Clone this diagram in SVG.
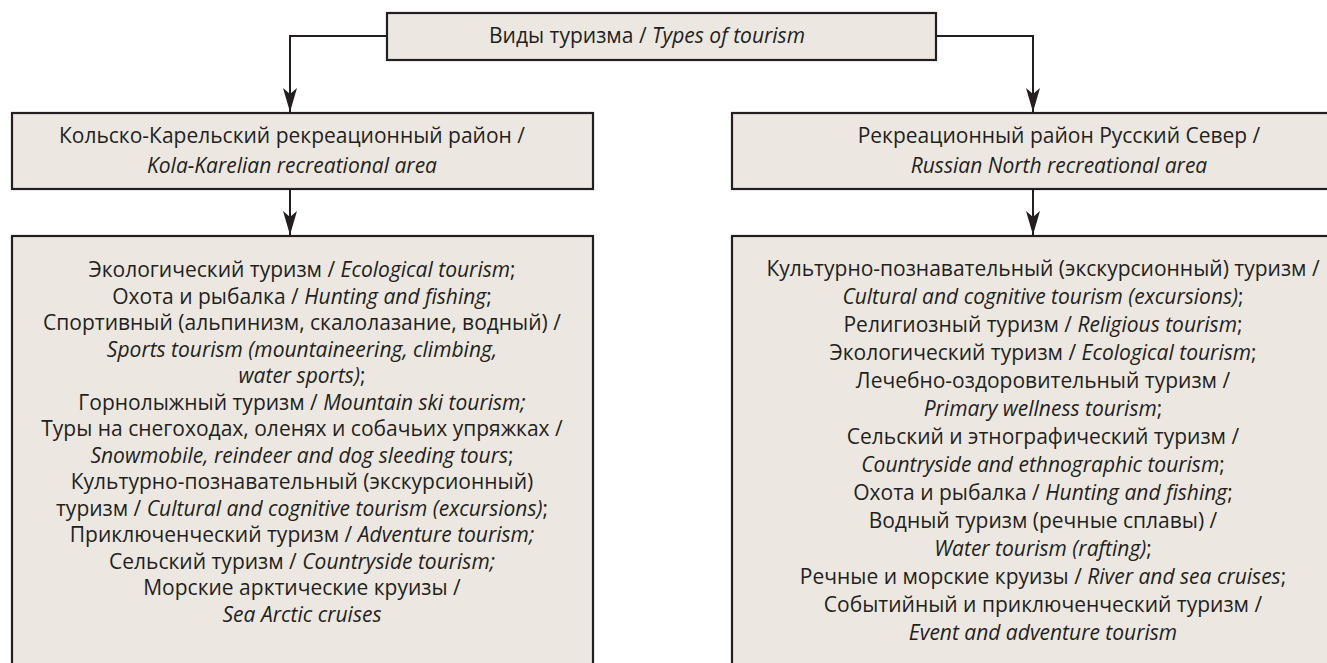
<svg xmlns="http://www.w3.org/2000/svg" width="1327" height="663" viewBox="0 0 1327 663">
<style>
.box{fill:#ece8e1;stroke:#231f20;stroke-width:2.2}
.t{font-family:"Open Sans","Noto Sans","DejaVu Sans",sans-serif;font-size:21px;fill:#231f20;text-anchor:middle}
.i{font-style:italic}
.c{fill:none;stroke:#231f20;stroke-width:2}
</style>
<defs>
<marker id="ah" viewBox="0 0 24 14" refX="24" refY="7" markerWidth="24" markerHeight="14" markerUnits="userSpaceOnUse" orient="auto">
<path d="M0,0 L24,7 L0,14 L6,7 Z" fill="#231f20"/>
</marker>
</defs>
<rect width="1327" height="663" fill="#ffffff"/>
<g id="connectors">
<path class="c" d="M387,36 H290 V112" marker-end="url(#ah)"/>
<path class="c" d="M936,36 H1033 V112" marker-end="url(#ah)"/>
<path class="c" d="M290,189 V235" marker-end="url(#ah)"/>
<path class="c" d="M1033,189 V235" marker-end="url(#ah)"/>
</g>
<g id="root">
<rect class="box" x="387" y="13" width="549" height="47"/>
<text class="t" x="647" y="43">Виды туризма / <tspan class="i">Types of tourism</tspan></text>
</g>
<g id="kola">
<rect class="box" x="12" y="113" width="581" height="76"/>
<text class="t" x="292" y="143">Кольско-Карельский рекреационный район /</text>
<text class="t i" x="292" y="173">Kola-Karelian recreational area</text>
</g>
<g id="north">
<rect class="box" x="732" y="113" width="620" height="76"/>
<text class="t" x="1059" y="143">Рекреационный район Русский Север /</text>
<text class="t i" x="1059" y="173">Russian North recreational area</text>
</g>
<g id="kola-types">
<rect class="box" x="12" y="236" width="581" height="440"/>
<text class="t" x="302" y="277">Экологический туризм / <tspan class="i">Ecological tourism</tspan>;</text>
<text class="t" x="302" y="303.5">Охота и рыбалка / <tspan class="i">Hunting and fishing</tspan>;</text>
<text class="t" x="302" y="330">Спортивный (альпинизм, скалолазание, водный) /</text>
<text class="t i" x="302" y="356.5">Sports tourism (mountaineering, climbing,</text>
<text class="t" x="302" y="383"><tspan class="i">water sports)</tspan>;</text>
<text class="t" x="302" y="409.5">Горнолыжный туризм / <tspan class="i">Mountain ski tourism;</tspan></text>
<text class="t" x="302" y="436">Туры на снегоходах, оленях и собачьих упряжках /</text>
<text class="t" x="302" y="462.5"><tspan class="i">Snowmobile, reindeer and dog sleeding tours</tspan>;</text>
<text class="t" x="302" y="489">Культурно-познавательный (экскурсионный)</text>
<text class="t" x="302" y="515.5">туризм / <tspan class="i">Cultural and cognitive tourism (excursions)</tspan>;</text>
<text class="t" x="302" y="542">Приключенческий туризм / <tspan class="i">Adventure tourism;</tspan></text>
<text class="t" x="302" y="568.5">Сельский туризм / <tspan class="i">Countryside tourism;</tspan></text>
<text class="t" x="302" y="595">Морские арктические круизы /</text>
<text class="t i" x="302" y="621.5">Sea Arctic cruises</text>
</g>
<g id="north-types">
<rect class="box" x="732" y="236" width="620" height="440"/>
<text class="t" x="1043" y="276">Культурно-познавательный (экскурсионный) туризм /</text>
<text class="t" x="1043" y="304"><tspan class="i">Cultural and cognitive tourism (excursions)</tspan>;</text>
<text class="t" x="1043" y="332">Религиозный туризм / <tspan class="i">Religious tourism</tspan>;</text>
<text class="t" x="1043" y="360">Экологический туризм / <tspan class="i">Ecological tourism</tspan>;</text>
<text class="t" x="1043" y="388">Лечебно-оздоровительный туризм /</text>
<text class="t" x="1043" y="416"><tspan class="i">Primary wellness tourism</tspan>;</text>
<text class="t" x="1043" y="444">Сельский и этнографический туризм /</text>
<text class="t" x="1043" y="472"><tspan class="i">Countryside and ethnographic tourism</tspan>;</text>
<text class="t" x="1043" y="500">Охота и рыбалка / <tspan class="i">Hunting and fishing</tspan>;</text>
<text class="t" x="1043" y="528">Водный туризм (речные сплавы) /</text>
<text class="t" x="1043" y="556"><tspan class="i">Water tourism (rafting)</tspan>;</text>
<text class="t" x="1043" y="584">Речные и морские круизы / <tspan class="i">River and sea cruises</tspan>;</text>
<text class="t" x="1043" y="612">Событийный и приключенческий туризм /</text>
<text class="t i" x="1043" y="640">Event and adventure tourism</text>
</g>
</svg>
